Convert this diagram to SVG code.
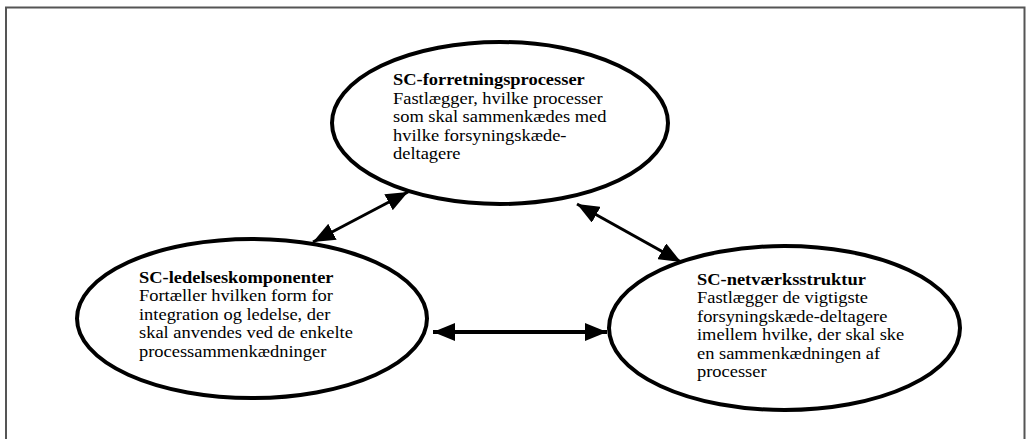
<svg xmlns="http://www.w3.org/2000/svg" width="1026" height="439" viewBox="0 0 1026 439">
<style>
.node{fill:#fff;stroke:#000;stroke-width:4}
.t{font-family:"Liberation Serif","Times New Roman",serif;font-size:17px;fill:#000}
.b{font-weight:bold}
.c{stroke:#000;fill:none}
</style>
<defs>
<marker id="ah" viewBox="0 0 22 18" refX="22" refY="9" markerWidth="22" markerHeight="18" markerUnits="userSpaceOnUse" orient="auto-start-reverse">
<path d="M0,0 L22,9 L0,18 Z" fill="#000"/>
</marker>
</defs>
<rect width="1026" height="439" fill="#fff"/>
<path d="M6,450 L6,7.5 L1024.5,7.5 L1024.5,450" fill="none" stroke="#555" stroke-width="2"/>
<g id="node-forretning">
<ellipse class="node" cx="500" cy="123" rx="168" ry="81"/>
<text class="t" transform="translate(393,0) scale(1.085,1)"><tspan class="b" x="0" y="85">SC-forretningsprocesser</tspan><tspan x="0" y="104">Fastlægger, hvilke processer</tspan><tspan x="0" y="122.5">som skal sammenkædes med</tspan><tspan x="0" y="141">hvilke forsyningskæde-</tspan><tspan x="0" y="159.5">deltagere</tspan></text>
</g>
<g id="node-ledelse">
<ellipse class="node" cx="252" cy="318.5" rx="175" ry="79.5"/>
<text class="t" transform="translate(139,0) scale(1.085,1)"><tspan class="b" x="0" y="283">SC-ledelseskomponenter</tspan><tspan x="0" y="301.5">Fortæller hvilken form for</tspan><tspan x="0" y="320">integration og ledelse, der</tspan><tspan x="0" y="338.5">skal anvendes ved de enkelte</tspan><tspan x="0" y="357">processammenkædninger</tspan></text>
</g>
<g id="node-netvaerk">
<ellipse class="node" cx="784.5" cy="328" rx="175.5" ry="82"/>
<text class="t" transform="translate(697,0) scale(1.085,1)"><tspan class="b" x="0" y="285">SC-netværksstruktur</tspan><tspan x="0" y="303.5">Fastlægger de vigtigste</tspan><tspan x="0" y="322">forsyningskæde-deltagere</tspan><tspan x="0" y="340.5">imellem hvilke, der skal ske</tspan><tspan x="0" y="359">en sammenkædningen af</tspan><tspan x="0" y="377.5">processer</tspan></text>
</g>
<g id="connectors">
<line class="c" x1="313" y1="242" x2="408" y2="192" stroke-width="3" marker-start="url(#ah)" marker-end="url(#ah)"/>
<line class="c" x1="577" y1="204" x2="681" y2="262" stroke-width="3" marker-start="url(#ah)" marker-end="url(#ah)"/>
<line class="c" x1="433" y1="332" x2="607" y2="332" stroke-width="4" marker-start="url(#ah)" marker-end="url(#ah)"/>
</g>
</svg>
